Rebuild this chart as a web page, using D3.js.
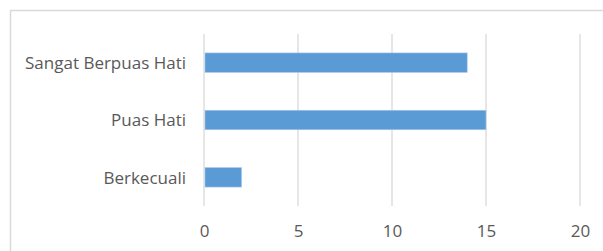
<!DOCTYPE html>
<html>
<head>
  <meta charset="utf-8">
  <script src="https://cdn.jsdelivr.net/npm/d3@7"></script>
  <style>
    body { margin: 0; background: #fff; }
    text { font-family: "Open Sans", sans-serif; fill: #595959; }
  </style>
</head>
<body>
<div id="chart"></div>
<script>
    var width = 603;
    var height = 251;

    // categories top to bottom
    var categories = ["Sangat Berpuas Hati", "Puas Hati", "Berkecuali"];
    var values = [14, 15, 2];
    var xTicks = [0, 5, 10, 15, 20];

    var svg = d3.select("#chart")
                .append("svg")
                .attr("width", width)
                .attr("height", height);

    // chart frame, runs off right and bottom edge
    svg.append("rect")
       .attr("x", 10.5).attr("y", 10.5)
       .attr("width", 620).attr("height", 260)
       .attr("fill", "none")
       .attr("stroke", "#d9d9d9")
       .attr("stroke-width", 1.5);

    var x = d3.scaleLinear().domain([0, 20]).range([204, 580]);
    var y = d3.scaleBand().domain(categories).range([34, 206])
              .paddingInner(0.66).paddingOuter(0.33);

    // vertical gridlines
    svg.selectAll(".grid")
       .data(xTicks)
       .enter().append("line")
       .attr("x1", function(d) { return x(d); })
       .attr("x2", function(d) { return x(d); })
       .attr("y1", 34).attr("y2", 206)
       .attr("stroke", "#d9d9d9")
       .attr("stroke-width", 1.3);

    svg.selectAll(".bar")
       .data(values)
       .enter().append("rect")
       .attr("x", x(0) + 1)
       .attr("y", function(d, i) { return y(categories[i]); })
       .attr("width", function(d) { return x(d) - x(0) - 1; })
       .attr("height", y.bandwidth())
       .attr("fill", "#5b9bd5")
       .attr("stroke", "#a8c8ea")
       .attr("stroke-width", 0.6);

    // x axis labels
    var xAxis = d3.axisBottom(x).tickValues(xTicks).tickSize(0).tickPadding(0);
    var gx = svg.append("g").attr("transform", "translate(0,225)").call(xAxis);
    gx.select(".domain").remove();
    gx.selectAll("text")
      .attr("font-size", "17px")
      .attr("font-family", "Open Sans, sans-serif")
      .attr("fill", "#595959");

    // category labels
    var yAxis = d3.axisLeft(y).tickSize(0).tickPadding(0);
    var gy = svg.append("g").attr("transform", "translate(186,1)").call(yAxis);
    gy.select(".domain").remove();
    gy.selectAll("text")
      .attr("font-size", "17px")
      .attr("font-family", "Open Sans, sans-serif")
      .attr("fill", "#595959");
</script>
</body>
</html>
